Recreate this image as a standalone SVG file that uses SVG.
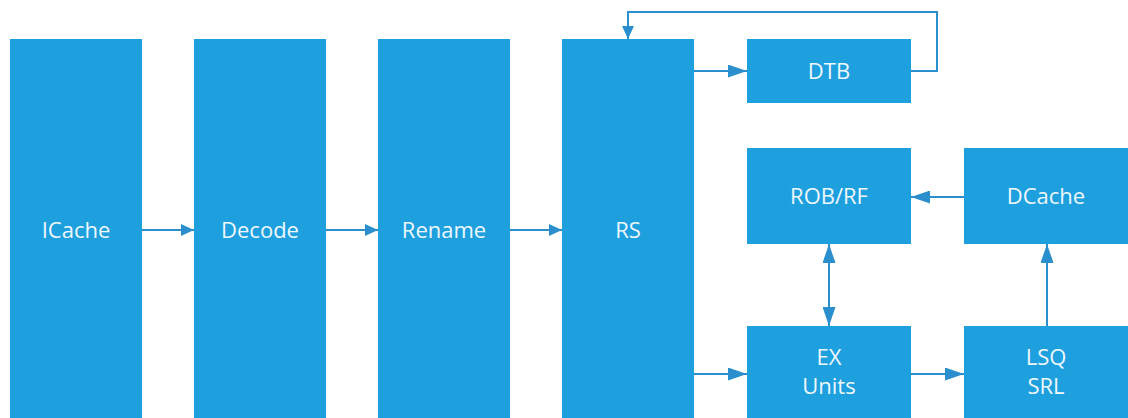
<svg xmlns="http://www.w3.org/2000/svg" width="1128" height="418" viewBox="0 0 1128 418">
  <style>
    .box { fill: #1e9fde; }
    .lbl { fill: #eef8ff; font-family: "Open Sans", "Noto Sans", "DejaVu Sans", sans-serif; font-size: 22px; text-anchor: middle; }
    .wire { fill: none; stroke: #2a8fcc; stroke-width: 2; }
  </style>
  <defs>
    <marker id="head" markerUnits="userSpaceOnUse" markerWidth="20" markerHeight="13" refX="19" refY="6.5" orient="auto-start-reverse">
      <path d="M0,0 L19,6.5 L0,13 z" fill="#2a8fcc"/>
    </marker>
    <marker id="headS" markerUnits="userSpaceOnUse" markerWidth="14" markerHeight="12" refX="13" refY="6" orient="auto">
      <path d="M0,0 L13,6 L0,12 z" fill="#2a8fcc"/>
    </marker>
  </defs>

  <g id="connectors">
    <line class="wire" x1="142" y1="230" x2="194" y2="230" marker-end="url(#headS)"/>
    <line class="wire" x1="326" y1="230" x2="378" y2="230" marker-end="url(#headS)"/>
    <line class="wire" x1="510" y1="230" x2="562" y2="230" marker-end="url(#headS)"/>
    <line class="wire" x1="694" y1="71" x2="747" y2="71" marker-end="url(#head)"/>
    <polyline class="wire" points="911,71 937,71 937,12 628,12 628,39" marker-end="url(#headS)"/>
    <line class="wire" x1="694" y1="374" x2="747" y2="374" marker-end="url(#head)"/>
    <line class="wire" x1="911" y1="374" x2="964" y2="374" marker-end="url(#head)"/>
    <line class="wire" x1="964" y1="197" x2="911" y2="197" marker-end="url(#head)"/>
    <line class="wire" x1="829" y1="244" x2="829" y2="326" marker-start="url(#head)" marker-end="url(#head)"/>
    <line class="wire" x1="1047" y1="326" x2="1047" y2="244" marker-end="url(#head)"/>
  </g>

  <g id="icache">
    <rect class="box" x="10" y="39" width="132" height="379"/>
    <text class="lbl" x="76" y="238">ICache</text>
  </g>
  <g id="decode">
    <rect class="box" x="194" y="39" width="132" height="379"/>
    <text class="lbl" x="260" y="238">Decode</text>
  </g>
  <g id="rename">
    <rect class="box" x="378" y="39" width="132" height="379"/>
    <text class="lbl" x="444" y="238">Rename</text>
  </g>
  <g id="rs">
    <rect class="box" x="562" y="39" width="132" height="379"/>
    <text class="lbl" x="628" y="238">RS</text>
  </g>
  <g id="dtb">
    <rect class="box" x="747" y="39" width="164" height="64"/>
    <text class="lbl" x="829" y="79">DTB</text>
  </g>
  <g id="robrf">
    <rect class="box" x="747" y="148" width="164" height="96"/>
    <text class="lbl" x="829" y="204">ROB/RF</text>
  </g>
  <g id="dcache">
    <rect class="box" x="964" y="148" width="164" height="96"/>
    <text class="lbl" x="1046" y="204">DCache</text>
  </g>
  <g id="exunits">
    <rect class="box" x="747" y="326" width="164" height="92"/>
    <text class="lbl" x="829" y="365">EX</text>
    <text class="lbl" x="829" y="394">Units</text>
  </g>
  <g id="lsqsrl">
    <rect class="box" x="964" y="326" width="164" height="92"/>
    <text class="lbl" x="1046" y="365">LSQ</text>
    <text class="lbl" x="1046" y="394">SRL</text>
  </g>
</svg>
